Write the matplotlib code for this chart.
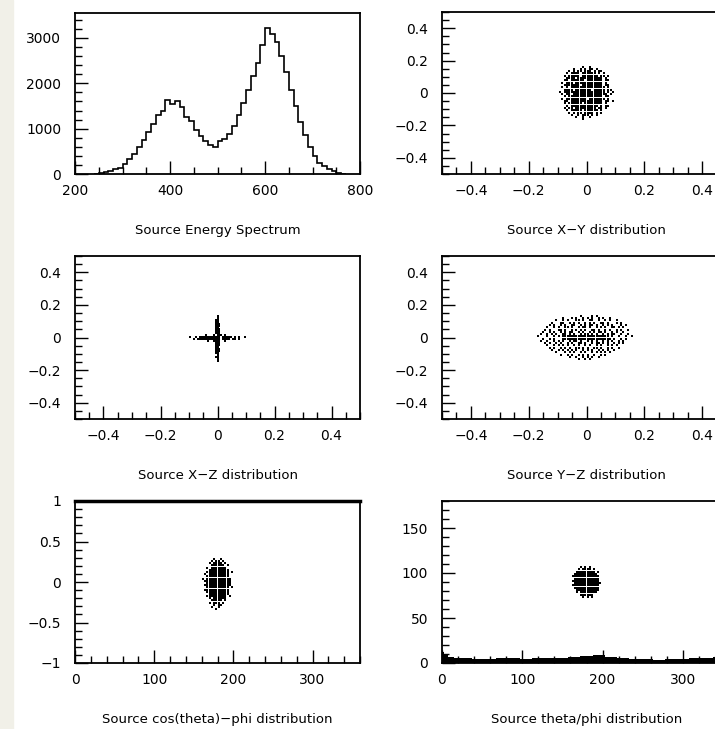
#!/usr/bin/env python3
"""
Source distributions: energy spectrum plus position / angle scatter plots.
"""

import matplotlib
matplotlib.use('Agg')
import matplotlib.pyplot as plt
import numpy as np
from matplotlib.patches import Rectangle
from matplotlib.ticker import MultipleLocator, FuncFormatter

# Energy spectrum: 10-unit bins starting at 240
energy_edges = np.arange(240, 780, 10)
energy_counts = [0, 15, 40, 70, 100, 130, 220, 330, 450, 600,
                 760, 920, 1100, 1290, 1400, 1630, 1540, 1600, 1480, 1250,
                 1170, 980, 830, 730, 640, 600, 730, 780, 880, 1060,
                 1300, 1570, 1850, 2150, 2450, 2850, 3220, 3080, 2900, 2600,
                 2250, 1850, 1500, 1150, 870, 600, 400, 250, 170, 110,
                 60, 25, 5]

# Scatter clouds as occupancy maps ('#' = dot),
# each with its data extent (x0, x1, y0, y1)
xy_extent = (-0.095, 0.095, -0.17, 0.17)
xy_map = [
    "..........#..#..........",
    "......#..#.#.##.#.......",
    "....#.#.##.###.#.##.....",
    "...#.####.######.#.#....",
    "..#.#####.#######.##.#..",
    "...####.###########.#...",
    "..##.######.#######.##..",
    ".#.###.############.#...",
    "..#######.#########.##..",
    ".#.#.###############.#..",
    "..####.#######.#####.##.",
    "#.##################.#.#",
    ".#.##.###############.#.",
    "..#.###############.##..",
    ".#.#########.#######.#..",
    "..##.##############.##.#",
    "..#.######.########.#...",
    "...#.############.#.##..",
    "..#.##.#########.##.#...",
    "...#.#####.######.#.....",
    "....#.#.##.####.#.#.....",
    ".....#..#.###.#.#.......",
    ".......#..#..#..........",
    "..........#.............",
]

xz_extent = (-0.1, 0.1, -0.15, 0.14)
xz_map = [
    "..............#..............",
    "..............#..............",
    ".............##..............",
    ".............##..............",
    ".............###.............",
    ".............###.............",
    ".............##..............",
    ".............###.............",
    ".............###.............",
    ".............###.............",
    "........#...#.###.#..........",
    "#..#.###########.#####.#.#..#",
    "..#.############.####.##.#...",
    ".........#..####..#..........",
    ".............###.............",
    ".............###.............",
    ".............##..............",
    ".............###.............",
    ".............###.............",
    ".............##..............",
    "..............#..............",
    ".............##..............",
    "..............#..............",
    "..............#..............",
]

yz_extent = (-0.17, 0.17, -0.14, 0.14)
yz_map = [
    "...................#....#.#.................",
    "...........#...#.#..#.#.#..#.#..#...........",
    "........#..#.#...##.#..##..#..#.#..#........",
    "......#...##..#.#.#..#.#.#..##.#...#.#......",
    ".....#.#..#.#..##..#.#.##.#..#.#.#...#.#....",
    "....#..#.#..##.#..#.##.#..#.#.#..##.#.#.....",
    "...#.#...##.#..#.#.#.#..##.#..#.#..#.#..#...",
    "..#..#.#..#.#.##..#.#..#.#.##.#..#.#..#.....",
    ".#..#.#.#..##.#.#..#.##.#.#..#.#.##..#..#...",
    "#...#..#.#.#####################.#..#..#..#.",
    "..#..#.#...######################.#..#.#....",
    ".#..#..#.#.#..#.##.#..#.#.#..#.#.#..#.#.....",
    "...#.#..#.#..#.#..##.#..#.##.#.#..#.#.#.....",
    "....#..#.#.#.#..#.#..#.#..#.#..#.#.#........",
    ".....#.#..#.#.#..##.#.#..##.#..#.#..#.......",
    "......#..#.#.#.#.#..#.#.#..#.#.#..#.........",
    "........#...#.#.#..#.#..#.#.#.#.#...........",
    "..........#..#.#..#.#.#..#..#.#.............",
    "..............#..#..#.#.#..#................",
    "..................#..#.#....................",
]

cosphi_extent = (160, 200, -0.35, 0.3)
cosphi_map = [
    ".....#..#.....",
    "....#.##.#....",
    "...#.####.#...",
    "....######.#..",
    "..#.#######...",
    "...#########..",
    "..##########.#",
    ".#.#########..",
    "..##########..",
    "#.###########.",
    ".############.",
    "..###########.",
    ".############.",
    "..##########.#",
    ".###########..",
    "..##########..",
    "...#########..",
    "..#########.#.",
    "...#.######...",
    "....#####.#...",
    "...#.###.#....",
    ".....#.##.....",
    "....#..#......",
    "......#.......",
]

thetaphi_extent = (162, 198, 72, 108)
thetaphi_map = [
    "....#.#.#.....",
    "...#.####.#...",
    "..#########.#.",
    ".###########..",
    "#############.",
    ".############.",
    "#############.",
    ".#############",
    "#############.",
    ".############.",
    "..###########.",
    "..#.########..",
    "....######....",
    ".....#.#.#....",
]

# theta ~ 0 band along all phi (upper edge of the dense band)
band_phi = [0, 4, 10, 20, 30, 45, 60, 75, 90, 105, 120, 135, 150, 165,
            180, 195, 210, 225, 240, 255, 270, 285, 300, 315, 330, 345, 360]
band_top = [12, 9, 7, 6, 5, 4, 4.5, 5, 5, 4.5, 5, 5.5, 6, 7,
            8, 8.5, 7, 6, 4.5, 4, 3.5, 4, 4.5, 5.5, 6, 6.5, 7]

# cos(theta) = 1 row along all phi
top_row_phi = [0, 360]
top_row_cos = [1.0, 1.0]

titles = ['Source Energy Spectrum', 'Source X\u2212Y distribution',
          'Source X\u2212Z distribution', 'Source Y\u2212Z distribution',
          'Source cos(theta)\u2212phi distribution', 'Source theta/phi distribution']


def cloud_points(rows, extent):
    x0, x1, y0, y1 = extent
    ncol = max(len(r) for r in rows)
    grid = np.array([[c == '#' for c in r.ljust(ncol, '.')] for r in rows])
    iy, ix = np.nonzero(grid)
    xs = x0 + (ix + 0.5) * (x1 - x0) / ncol
    ys = y1 - (iy + 0.5) * (y1 - y0) / len(rows)
    return xs, ys


plt.rcParams['font.family'] = 'DejaVu Sans'
plt.rcParams['font.size'] = 10

W, H = 715, 729
fig = plt.figure(figsize=(W / 100, H / 100), dpi=100)
fig.patches.append(Rectangle((0, 0), 13 / W, 1, transform=fig.transFigure,
                             color='#f1f0e8', zorder=-1))

# axes boxes in pixels: left, right, top, bottom
boxes = [(75, 360, 13, 174), (442, 731, 12, 174),
         (75, 360, 256, 419), (442, 731, 256, 419),
         (75, 360, 501, 663), (442, 731, 501, 663)]
axes = []
for (l, r, t, b) in boxes:
    axes.append(fig.add_axes([l / W, 1 - b / H, (r - l) / W, (b - t) / H]))

fmt = FuncFormatter(lambda v, pos: ('%g' % v).replace('-', '\u2212'))


def style(ax, xlim, ylim, xmaj, xmin, ymaj, ymin, title):
    ax.set_xlim(*xlim)
    ax.set_ylim(*ylim)
    ax.xaxis.set_major_locator(MultipleLocator(xmaj))
    ax.xaxis.set_minor_locator(MultipleLocator(xmin))
    ax.yaxis.set_major_locator(MultipleLocator(ymaj))
    ax.yaxis.set_minor_locator(MultipleLocator(ymin))
    ax.xaxis.set_major_formatter(fmt)
    ax.yaxis.set_major_formatter(fmt)
    ax.tick_params(which='both', direction='in', top=False, right=False,
                   width=1, labelsize=10)
    ax.tick_params(which='major', length=9.5)
    ax.tick_params(which='minor', length=5)
    ax.tick_params(axis='x', pad=7)
    ax.tick_params(axis='y', pad=10)
    for s in ax.spines.values():
        s.set_linewidth(1.3)
    ax.annotate(title, xy=(0.5, 0), xycoords='axes fraction',
                xytext=(0, -41), textcoords='offset points',
                ha='center', va='center', fontsize=9.5)


# Energy spectrum
ax = axes[0]
ax.stairs(energy_counts, energy_edges, baseline=0, color='black', lw=1.2)
style(ax, (200, 800), (0, 3550), 200, 50, 1000, 200, titles[0])

# crisp, non-antialiased dots like the original screen rendering
dot = dict(ls='none', marker='s', ms=1.75, mew=0, color='black',
           antialiased=False)

ax = axes[1]
ax.plot(*cloud_points(xy_map, xy_extent), **dot)
style(ax, (-0.5, 0.5), (-0.5, 0.5), 0.2, 0.05, 0.2, 0.05, titles[1])

ax = axes[2]
ax.plot(*cloud_points(xz_map, xz_extent), **dict(dot, ms=1.9))
style(ax, (-0.5, 0.5), (-0.5, 0.5), 0.2, 0.05, 0.2, 0.05, titles[2])

ax = axes[3]
ax.plot(*cloud_points(yz_map, yz_extent), **dict(dot, ms=1.6))
style(ax, (-0.5, 0.5), (-0.5, 0.5), 0.2, 0.05, 0.2, 0.05, titles[3])

ax = axes[4]
ax.plot(*cloud_points(cosphi_map, cosphi_extent), **dot)
ax.plot(top_row_phi, top_row_cos, color='black', lw=2.5, clip_on=False)
style(ax, (0, 360), (-1, 1), 100, 20, 0.5, 0.1, titles[4])

ax = axes[5]
ax.plot(*cloud_points(thetaphi_map, thetaphi_extent), **dot)
ax.fill_between(band_phi, 0, band_top, step='mid', color='black', lw=0)
style(ax, (0, 360), (0, 180), 100, 20, 50, 10, titles[5])

fig.savefig('out.png', dpi=100)
